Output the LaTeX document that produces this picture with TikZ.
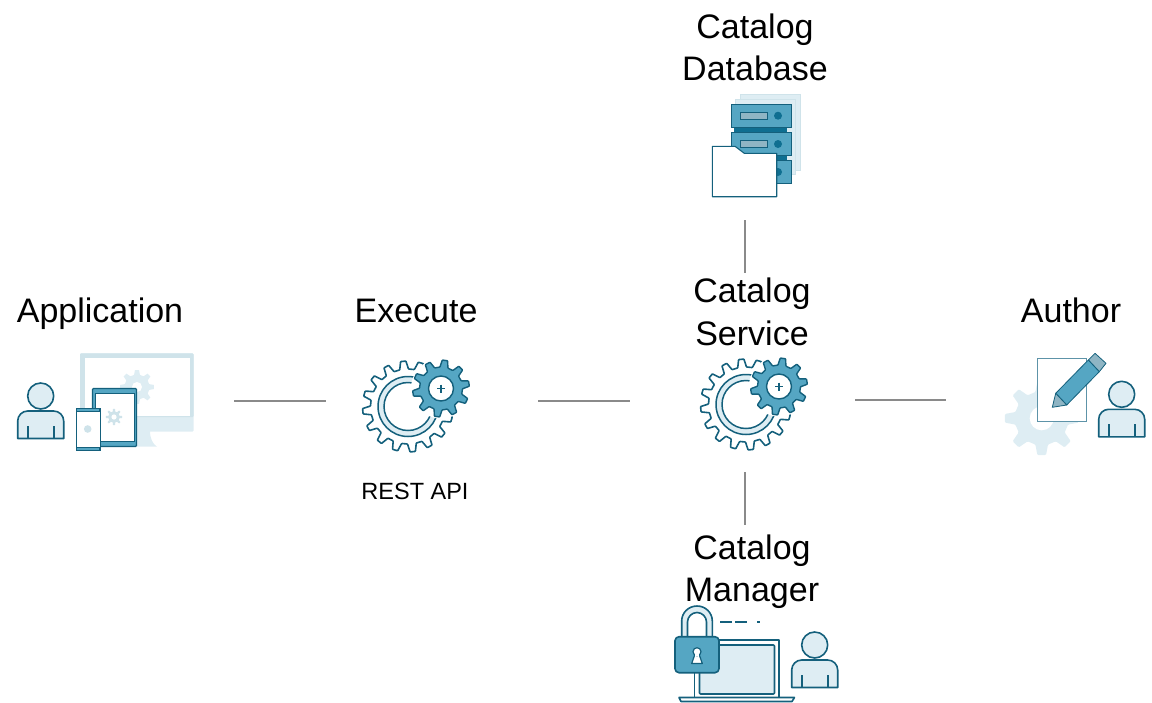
\documentclass[tikz,border=0pt]{standalone}
\usepackage{fontspec}
\setmainfont{Liberation Sans}
\definecolor{dk}{HTML}{14607C}
\definecolor{bl}{HTML}{55A6C3}
\definecolor{lt}{HTML}{DEEDF3}
\definecolor{lt2}{HTML}{CFE3EA}
\definecolor{grayb}{HTML}{8FB5C4}
\definecolor{conncol}{HTML}{8A8A8A}
\definecolor{deep}{HTML}{0F6F91}
\definecolor{pageb}{HTML}{5D93A8}
\tikzset{
  lab/.style={font=\fontsize{34}{42.5}\selectfont,align=center,inner sep=0pt,text=black},
  sublab/.style={font=\fontsize{23.5}{28}\selectfont,inner sep=0pt,text=black,anchor=base},
  connline/.style={draw=conncol,line width=1.9pt},
  ic/.style={draw=dk,line width=1.6pt,line join=round},
  lightfill/.style={fill=lt,draw=none},
}
\newcommand\gearpath[3]{({-0.3*360/#1}:#2)
  \foreach \k in {1,...,#1} {
    -- ({(\k-1-0.3)*360/#1}:#2) -- ({(\k-1-0.15)*360/#1}:#3) -- ({(\k-1+0.15)*360/#1}:#3) -- ({(\k-1+0.3)*360/#1}:#2)
  } -- cycle}
\newcommand\person[2]{%
  \begin{scope}[shift={(#1,#2)}]
    \draw[ic,fill=lt] (0,0) circle[radius=13];
    \draw[ic,fill=lt] (-23,42.5) -- (-23,25) .. controls (-23,19.5) and (-18.5,15) .. (-13,15) -- (13,15) .. controls (18.5,15) and (23,19.5) .. (23,25) -- (23,42.5) -- cycle;
    \draw[ic] (-13,30) -- (-13,42.5) (13,30) -- (13,42.5);
  \end{scope}}
\newcommand\gearpair[2]{%
  \begin{scope}[shift={(#1,#2)}]
    \draw[draw=dk,line width=1.6pt,line join=round,fill=white,rounded corners=0.6pt,rotate=6] \gearpath{16}{37.5}{45.5};
    \draw[fill=lt,draw=dk,line width=1.5pt,even odd rule] (0,0) circle[radius=30] (0,0) circle[radius=24];
    \fill[white,shift={(33,-18)}] (0,0) circle[radius=30];
    \draw[draw=dk,line width=1.4pt,line join=round,fill=bl,rounded corners=0.6pt,shift={(33,-18)},rotate=10] \gearpath{10}{21.5}{28.5};
    \draw[fill=white,draw=dk,line width=1.4pt] (33,-18) circle[radius=12.5];
    \draw[dk,line width=1.4pt] (29,-18) -- (37,-18) (33,-22) -- (33,-14);
  \end{scope}}
\begin{document}
\begin{tikzpicture}[x=1pt,y=-1pt]
\useasboundingbox (0,0) rectangle (1152,702);

% ---------- text
\node[lab,anchor=base] (tapp) at (100,322) {Application};
\node[lab,anchor=base] (texec) at (416,322) {Execute};
\node[sublab] (trest) at (415,499.5) {REST API};
\node[lab] (tdb) at (755,47.5) {Catalog\\Database};
\node[lab] (tsvc) at (752,312) {Catalog\\Service};
\node[lab] (tmgr) at (752,571.5) {Catalog\\Manager};
\node[lab,anchor=base] (tauth) at (1071,322) {Author};

% ---------- connectors
\coordinate (c1a) at (234,401); \coordinate (c1b) at (326,401);
\coordinate (c2a) at (538,401); \coordinate (c2b) at (630,401);
\coordinate (c3a) at (855,400); \coordinate (c3b) at (946,400);
\coordinate (c4a) at (745,220); \coordinate (c4b) at (745,273);
\coordinate (c5a) at (745,472); \coordinate (c5b) at (745,525);
\draw[connline] (c1a) -- (c1b);
\draw[connline] (c2a) -- (c2b);
\draw[connline] (c3a) -- (c3b);
\draw[connline] (c4a) -- (c4b);
\draw[connline] (c5a) -- (c5b);

% ---------- application icon
\fill[lt] (133,431) -- (150,431) .. controls (150,439) and (153,444) .. (157,446.7) -- (133,446.7) -- cycle;
\fill[lt,rounded corners=1pt] (80,353.3) rectangle (193.5,431.7);
\fill[lt2,rounded corners=1pt] (80,353.3) rectangle (193.5,417);
\fill[white] (84.5,357.5) rectangle (189.5,416);
\path[lightfill,shift={(137,387)}] \gearpath{8}{12.5}{17};
\fill[white] (137,387) circle[radius=5];
\draw[dk,line width=1.2pt,fill=bl,rounded corners=1pt] (92.5,388.5) rectangle (136.5,446.5);
\draw[dk,line width=1pt,fill=white] (95.5,393) rectangle (134,441.5);
\path[fill=lt2,shift={(114,417)}] \gearpath{8}{5.5}{8.2};
\fill[white] (114,417) circle[radius=2.6];
\draw[dk,line width=1.2pt,fill=bl] (76.5,408.5) rectangle (100,450.5);
\draw[dk,line width=1pt,fill=white] (76.5,411.5) rectangle (100,447);
\fill[lt2] (87.7,429) circle[radius=3.8];
\person{40.7}{396}

% ---------- gears
\gearpair{408}{406.5}
\gearpair{746}{404.5}

% ---------- database icon
\draw[lt2,line width=1pt,fill=lt] (740,94.5) rectangle (800,170);
\draw[lt2,line width=1pt,fill=lt] (735,99) rectangle (795.7,174);
\fill[deep] (734.3,125) rectangle (786.7,134);
\fill[deep] (734.3,153) rectangle (786.7,162);
\foreach \yy in {104,132.3,160.3} {
  \draw[dk,line width=1pt,fill=bl] (731,\yy) rectangle (791,\yy+23.4);
  \draw[dk,line width=1pt,fill=grayb] (740,\yy+8.3) rectangle (767.7,\yy+15.3);
  \fill[deep] (778,\yy+11.7) circle[radius=4];
}
\draw[dk,line width=1.1pt,fill=white,line join=round] (712.3,146.3) -- (735,146.3) -- (744.3,153.3) -- (776.7,153.3) -- (776.7,196.7) -- (712.3,196.7) -- cycle;

% ---------- manager icon
\draw[ic,fill=white] (694.5,701) -- (694.5,640) -- (779,640) -- (779,701);
\draw[ic,fill=lt,rounded corners=1pt] (699.5,645) rectangle (774.5,694);
\draw[ic,fill=white] (679,697.5) -- (794.5,697.5) -- (792,701.5) -- (681,701.5) -- cycle;
\draw[ic,fill=lt] (681.7,640) -- (681.7,621) .. controls (681.7,612.7) and (688.5,606) .. (697,606) .. controls (705.5,606) and (712.3,612.7) .. (712.3,621) -- (712.3,640) -- (706.5,640) -- (706.5,622) .. controls (706.5,616.8) and (702.2,612.5) .. (697,612.5) .. controls (691.8,612.5) and (687.5,616.8) .. (687.5,622) -- (687.5,640) -- cycle;
\draw[ic,fill=bl,rounded corners=4pt] (675,636.7) rectangle (719,672.7);
\draw[dk,line width=1.2pt,fill=white,line join=round] (695,654) -- (691.7,663.5) -- (702.3,663.5) -- (699,654) -- cycle;
\draw[dk,line width=1.2pt,fill=white] (697,651.7) circle[radius=4];
\fill[white] (695.2,652.5) rectangle (698.8,656);
\draw[dk,line width=1.4pt] (720,622) -- (732,622) (735,622) -- (747,622) (757,622) -- (760,622);
\person{814.7}{645}

% ---------- author icon
\path[lightfill,shift={(1041.7,418.3)},rounded corners=1pt] \gearpath{8}{27}{37};
\fill[white] (1041.7,418.3) circle[radius=12];
\draw[pageb,line width=1pt,fill=white] (1037.3,358.3) rectangle (1086,421.7);
\draw[dk,line width=0.8pt,fill=grayb,line join=round] (1088.3,360) -- (1095,353.3) -- (1106,363.3) -- (1099.3,371.7) -- cycle;
\draw[dk,line width=0.8pt,fill=bl,line join=round] (1055.7,393.3) -- (1088.3,360) -- (1099.3,371.7) -- (1066.7,405) -- cycle;
\draw[dk,line width=0.8pt,fill=grayb,line join=round] (1052.3,407.3) -- (1055.7,393.3) -- (1066.7,405) -- cycle;
\person{1121.7}{394.3}
\end{tikzpicture}
\end{document}
